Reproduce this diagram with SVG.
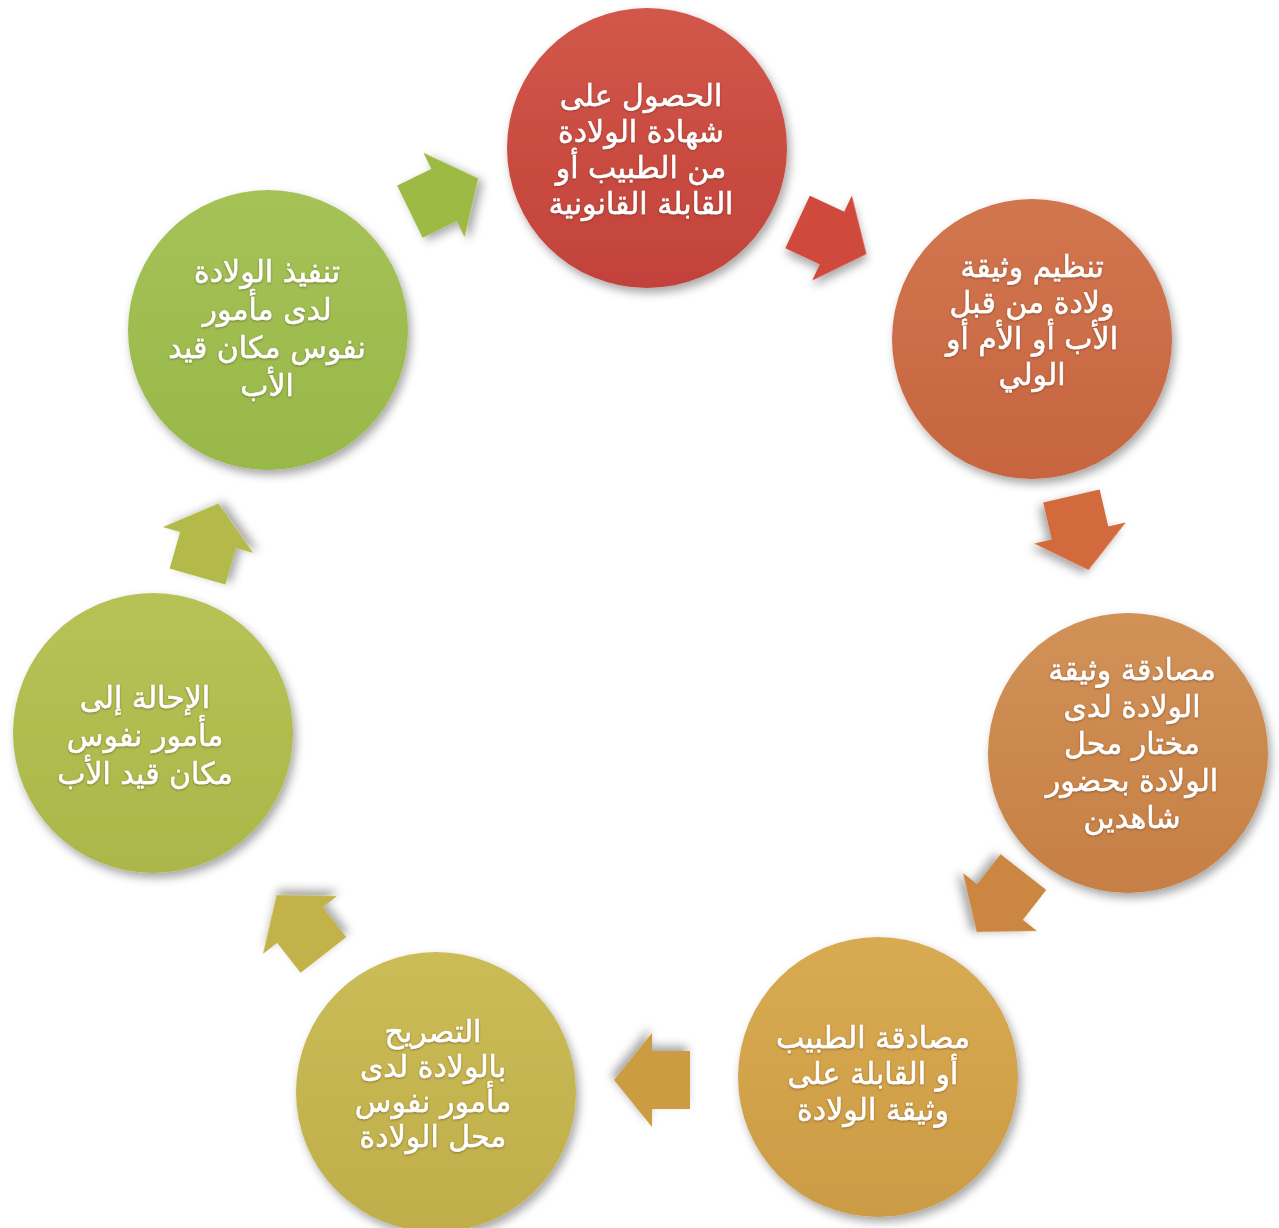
<svg xmlns="http://www.w3.org/2000/svg" width="1279" height="1228" viewBox="0 0 1279 1228">
<defs>
<filter id="sh" x="-20%" y="-20%" width="140%" height="140%">
<feDropShadow dx="3" dy="5" stdDeviation="5" flood-color="#000" flood-opacity="0.35"/>
</filter>
<filter id="ts" x="-10%" y="-30%" width="120%" height="160%">
<feDropShadow dx="0" dy="1" stdDeviation="1.2" flood-color="#5a3020" flood-opacity="0.5"/>
</filter>
<path id="arr" d="M -38 -29 L 0 -29 L 0 -47 L 38 0 L 0 47 L 0 29 L -38 29 Z"/>
<linearGradient id="g0" x1="0" y1="0" x2="0" y2="1"><stop offset="0" stop-color="#D2574A"/><stop offset="1" stop-color="#C2423A"/></linearGradient>
<linearGradient id="g1" x1="0" y1="0" x2="0" y2="1"><stop offset="0" stop-color="#D27650"/><stop offset="1" stop-color="#C6653F"/></linearGradient>
<linearGradient id="g2" x1="0" y1="0" x2="0" y2="1"><stop offset="0" stop-color="#D19257"/><stop offset="1" stop-color="#C67F45"/></linearGradient>
<linearGradient id="g3" x1="0" y1="0" x2="0" y2="1"><stop offset="0" stop-color="#D8AB52"/><stop offset="1" stop-color="#CC9B45"/></linearGradient>
<linearGradient id="g4" x1="0" y1="0" x2="0" y2="1"><stop offset="0" stop-color="#CBBC57"/><stop offset="1" stop-color="#BFAE4A"/></linearGradient>
<linearGradient id="g5" x1="0" y1="0" x2="0" y2="1"><stop offset="0" stop-color="#B7C256"/><stop offset="1" stop-color="#ABB74A"/></linearGradient>
<linearGradient id="g6" x1="0" y1="0" x2="0" y2="1"><stop offset="0" stop-color="#A5C256"/><stop offset="1" stop-color="#98B84A"/></linearGradient>
</defs>
<style>
.node circle{filter:url(#sh);}
.lbl{font-family:"DejaVu Sans",sans-serif;font-size:30px;fill:#FFFFFF;stroke:#FFFFFF;stroke-width:0.5;text-anchor:middle;filter:url(#ts);}
.conn use{filter:url(#sh);}
</style>
<rect width="1279" height="1228" fill="#FFFFFF"/>

<g id="connectors" class="conn">
<use href="#arr" fill="#CF4A3E" transform="translate(832,238) rotate(25)"/>
<use href="#arr" fill="#D36A3D" transform="translate(1080,533) rotate(77)"/>
<use href="#arr" fill="#CB8742" transform="translate(1000,902) rotate(128)"/>
<use href="#arr" fill="#CB9C42" transform="translate(652,1080) rotate(180)"/>
<use href="#arr" fill="#C3B24A" transform="translate(300,925) rotate(232)"/>
<use href="#arr" fill="#B3BA4A" transform="translate(208,540) rotate(286)"/>
<use href="#arr" fill="#9DBA45" transform="translate(444,195) rotate(-26)"/>
</g>

<g id="node0" class="node">
<circle cx="647" cy="148" r="140" fill="url(#g0)"/>
<text class="lbl" direction="rtl"><tspan x="641" y="106">الحصول على</tspan><tspan x="641" y="142">شهادة الولادة</tspan><tspan x="641" y="178">من الطبيب أو</tspan><tspan x="641" y="214">القابلة القانونية</tspan></text>
</g>
<g id="node1" class="node">
<circle cx="1032" cy="339" r="140" fill="url(#g1)"/>
<text class="lbl" direction="rtl"><tspan x="1032" y="277">تنظيم وثيقة</tspan><tspan x="1032" y="313">ولادة من قبل</tspan><tspan x="1032" y="349">الأب أو الأم أو</tspan><tspan x="1032" y="385">الولي</tspan></text>
</g>
<g id="node2" class="node">
<circle cx="1128" cy="753" r="140" fill="url(#g2)"/>
<text class="lbl" direction="rtl"><tspan x="1132" y="680">مصادقة وثيقة</tspan><tspan x="1132" y="717">الولادة لدى</tspan><tspan x="1132" y="754">مختار محل</tspan><tspan x="1132" y="791">الولادة بحضور</tspan><tspan x="1132" y="828">شاهدين</tspan></text>
</g>
<g id="node3" class="node">
<circle cx="878" cy="1077" r="140" fill="url(#g3)"/>
<text class="lbl" direction="rtl"><tspan x="873" y="1048">مصادقة الطبيب</tspan><tspan x="873" y="1084">أو القابلة على</tspan><tspan x="873" y="1120">وثيقة الولادة</tspan></text>
</g>
<g id="node4" class="node">
<circle cx="436" cy="1092" r="140" fill="url(#g4)"/>
<text class="lbl" direction="rtl"><tspan x="433" y="1042">التصريح</tspan><tspan x="433" y="1077">بالولادة لدى</tspan><tspan x="433" y="1112">مأمور نفوس</tspan><tspan x="433" y="1147">محل الولادة</tspan></text>
</g>
<g id="node5" class="node">
<circle cx="153" cy="733" r="140" fill="url(#g5)"/>
<text class="lbl" direction="rtl"><tspan x="145" y="708">الإحالة إلى</tspan><tspan x="145" y="746">مأمور نفوس</tspan><tspan x="145" y="784">مكان قيد الأب</tspan></text>
</g>
<g id="node6" class="node">
<circle cx="268" cy="330" r="140" fill="url(#g6)"/>
<text class="lbl" direction="rtl"><tspan x="267" y="282">تنفيذ الولادة</tspan><tspan x="267" y="320">لدى مأمور</tspan><tspan x="267" y="358">نفوس مكان قيد</tspan><tspan x="267" y="396">الأب</tspan></text>
</g>
</svg>
